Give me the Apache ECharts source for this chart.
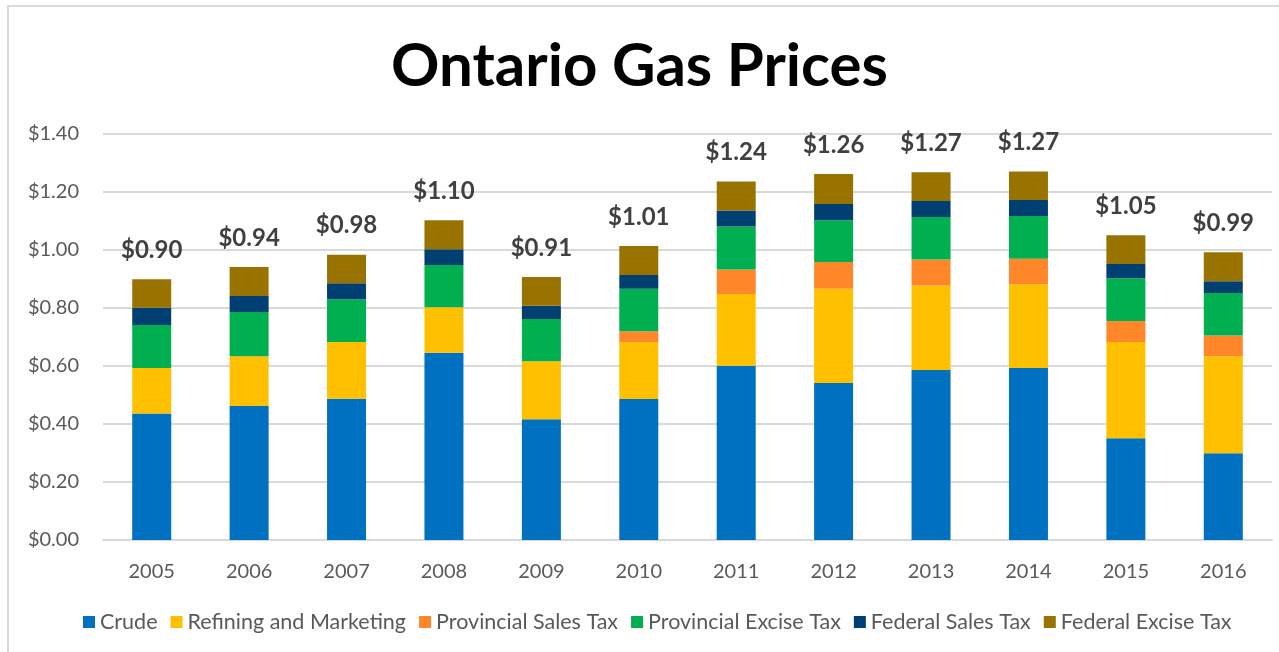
<!DOCTYPE html>
<html>
<head>
<meta charset="utf-8">
<script src="https://cdn.jsdelivr.net/npm/echarts@6/dist/echarts.min.js"></script>
<style>
  html, body { margin: 0; padding: 0; background: #fff; }
  #chart { width: 1279px; height: 652px; }
</style>
</head>
<body>
<div id="chart"></div>
<script>
// years on the x axis
let years = ["2005","2006","2007","2008","2009","2010","2011","2012","2013","2014","2015","2016"];

// price components, $ per litre
let crude      = [0.436,0.462,0.487,0.646,0.416,0.486,0.601,0.541,0.586,0.593,0.351,0.299];
let refining   = [0.157,0.172,0.196,0.157,0.200,0.197,0.247,0.325,0.292,0.289,0.332,0.335];
let provSales  = [0,0,0,0,0,0.037,0.085,0.093,0.089,0.088,0.072,0.071];
let provExcise = [0.148,0.152,0.147,0.145,0.146,0.146,0.148,0.144,0.147,0.147,0.148,0.147];
let fedSales   = [0.060,0.055,0.055,0.055,0.046,0.048,0.055,0.056,0.055,0.055,0.049,0.040];
let fedExcise  = [0.098,0.100,0.099,0.100,0.099,0.100,0.100,0.103,0.099,0.099,0.099,0.100];

let yTicks = [0,0.2,0.4,0.6,0.8,1.0,1.2,1.4];

let names  = ["Crude","Refining and Marketing","Provincial Sales Tax","Provincial Excise Tax","Federal Sales Tax","Federal Excise Tax"];
let colors = ["#0070C0","#FFC000","#FF872A","#00B050","#003F72","#997300"];
let parts  = [crude,refining,provSales,provExcise,fedSales,fedExcise];

function total(i){
    let s=0;
    for(let p of parts){ s+=p[i]; }
    return s;
}

let font="Lato";
let series=[];
parts.forEach(function(p,k){
    let s={
        name:names[k],
        type:"bar",
        stack:"price",
        data:p,
        barWidth:39,
        itemStyle:{color:colors[k]},
        emphasis:{disabled:true}
    };
    // the top segment carries the total label
    if(k==parts.length-1){
        s.label={
            show:true,
            position:"top",
            distance:17,
            fontFamily:font,
            fontWeight:"bold",
            fontSize:24,
            color:"#404040",
            formatter:function(e){ return "$"+total(e.dataIndex).toFixed(2); }
        };
    }
    series.push(s);
});

var myChart = echarts.init(document.getElementById("chart"));
var option = {
    animation:false,
    backgroundColor:"#fff",
    title:{
        text:"Ontario Gas Prices",
        left:"center",
        top:32,
        padding:[5,0,5,12],
        textStyle:{fontFamily:font,fontWeight:"bold",fontSize:60,color:"#000"}
    },
    graphic:[{
        type:"rect",
        shape:{x:8,y:6,width:1300,height:700},
        style:{fill:"none",stroke:"#D9D9D9",lineWidth:2},
        silent:true
    }],
    legend:{
        top:606,
        left:78,
        itemWidth:12,
        itemHeight:12,
        itemGap:13,
        icon:"rect",
        textStyle:{fontFamily:font,fontSize:21.5,color:"#595959"},
        data:names
    },
    grid:{left:103,right:7,top:134,bottom:112},
    xAxis:{
        type:"category",
        data:years,
        axisLine:{lineStyle:{color:"#D9D9D9",width:2}},
        axisTick:{show:false},
        axisLabel:{fontFamily:font,fontSize:20,color:"#595959",margin:22}
    },
    yAxis:{
        type:"value",
        min:yTicks[0],
        max:yTicks[yTicks.length-1],
        interval:0.2,
        axisLine:{show:false},
        axisTick:{show:false},
        splitLine:{lineStyle:{color:"#D9D9D9",width:2}},
        axisLabel:{
            fontFamily:font,fontSize:20,color:"#595959",margin:24,
            formatter:function(v){ return "$"+v.toFixed(2); }
        }
    },
    series:series
};
myChart.setOption(option);
</script>
</body>
</html>
